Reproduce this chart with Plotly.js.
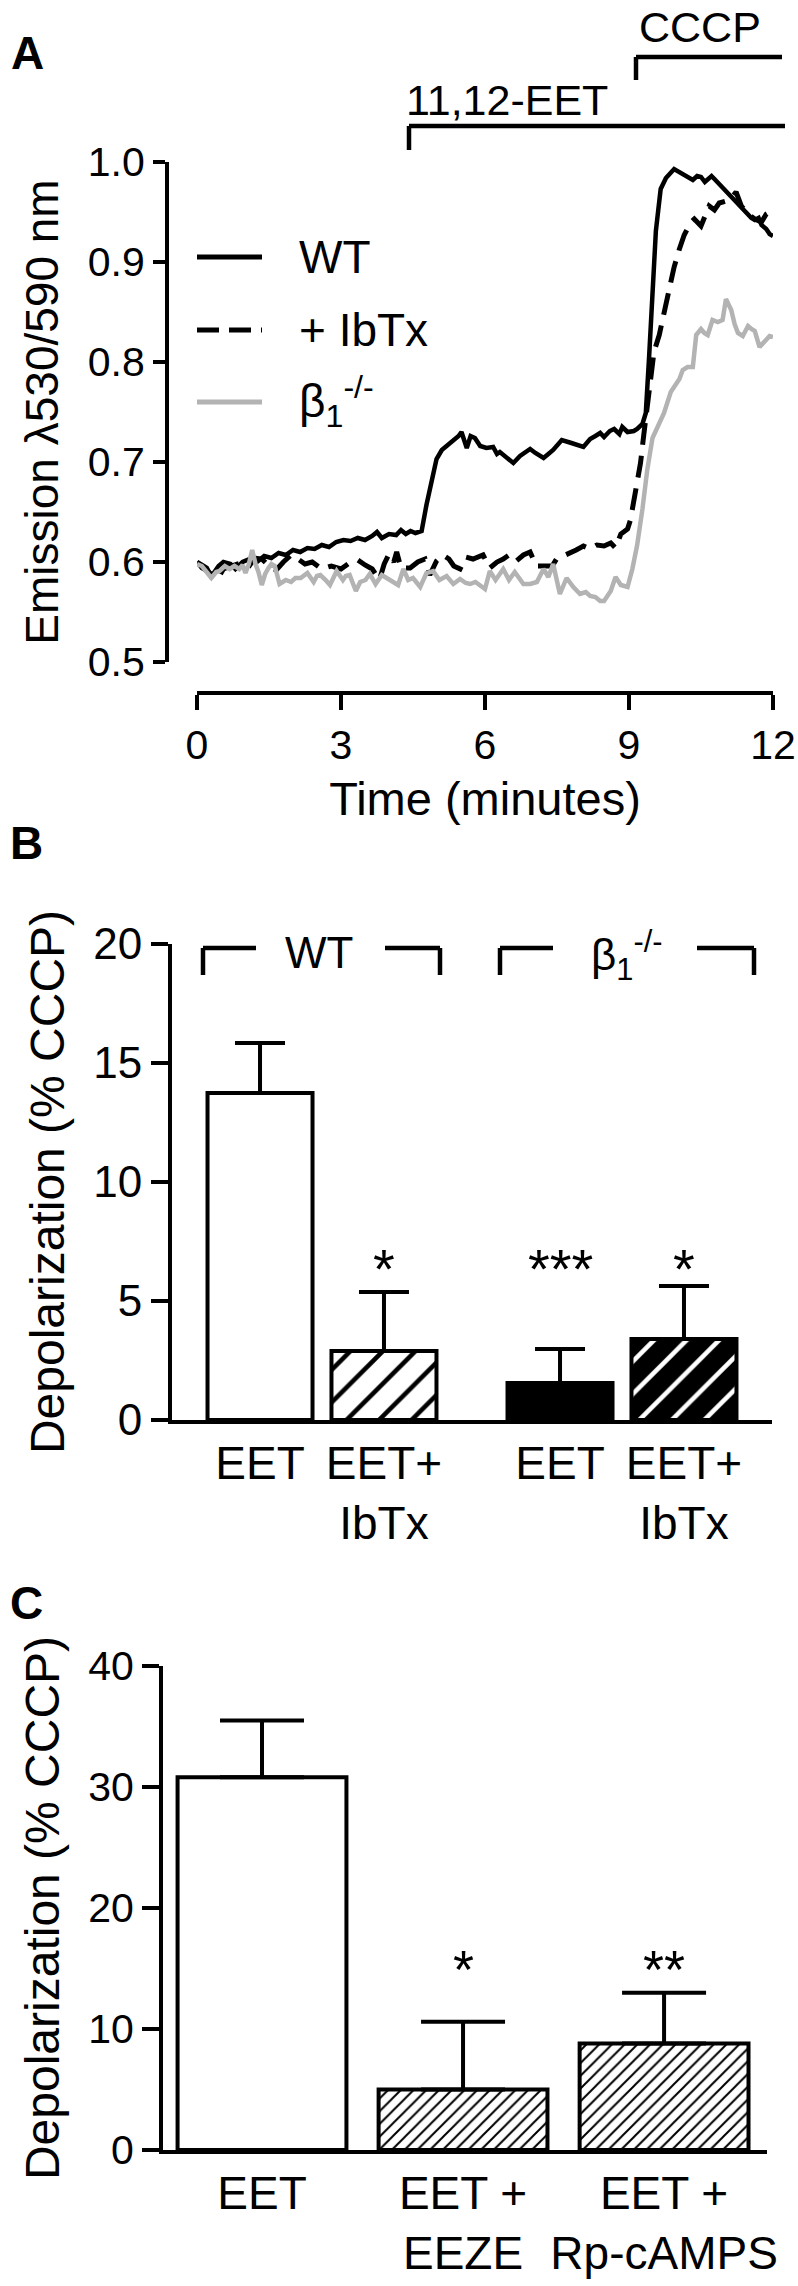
<!DOCTYPE html>
<html>
<head>
<meta charset="utf-8">
<script src="https://cdn.plot.ly/plotly-3.0.1.min.js"></script>
<style>html,body{margin:0;padding:0;background:#fff;}</style>
</head>
<body>
<div id="chart" style="width:798px;height:2286px;"></div>
<script>
// ---------- Panel A data (time in minutes, emission ratio) ----------
const timeWT = [0.00,0.10,0.25,0.32,0.45,0.55,0.70,0.80,0.95,1.10,1.25,1.40,1.55,1.70,1.85,2.00,2.15,2.30,2.45,2.60,2.75,2.90,3.05,3.20,3.35,3.50,3.65,3.75,3.85,4.00,4.15,4.25,4.35,4.45,4.55,4.68,4.78,4.89,4.99,5.10,5.20,5.34,5.45,5.51,5.58,5.62,5.70,5.79,5.90,6.03,6.17,6.25,6.31,6.45,6.59,6.73,6.85,6.94,7.05,7.22,7.32,7.42,7.60,7.70,7.80,8.05,8.19,8.30,8.40,8.48,8.60,8.69,8.80,8.86,8.97,9.10,9.17,9.28,9.35,9.42,9.49,9.56,9.66,9.77,9.94,10.05,10.15,10.25,10.33,10.42,10.50,10.58,10.64,10.72,10.78,10.92,11.00,11.06,11.13,11.20,11.27,11.34,11.41,11.48,11.55,11.62,11.70,11.76,11.86,11.93,12.00];
const emWT = [0.600,0.594,0.590,0.587,0.596,0.600,0.598,0.593,0.600,0.603,0.600,0.606,0.604,0.609,0.607,0.612,0.610,0.614,0.613,0.617,0.615,0.620,0.622,0.621,0.624,0.622,0.626,0.630,0.624,0.628,0.627,0.632,0.628,0.631,0.629,0.631,0.657,0.681,0.703,0.712,0.716,0.721,0.726,0.730,0.720,0.714,0.726,0.724,0.716,0.714,0.715,0.708,0.710,0.705,0.699,0.706,0.710,0.713,0.709,0.704,0.708,0.712,0.722,0.720,0.719,0.715,0.723,0.726,0.729,0.725,0.731,0.733,0.728,0.735,0.730,0.731,0.733,0.738,0.749,0.806,0.877,0.931,0.973,0.984,0.993,0.990,0.987,0.984,0.982,0.986,0.985,0.980,0.982,0.986,0.983,0.976,0.972,0.968,0.964,0.962,0.958,0.955,0.950,0.948,0.944,0.942,0.944,0.937,0.933,0.928,0.926];

const timeIbTx = [0.00,0.10,0.20,0.30,0.44,0.55,0.70,0.85,1.00,1.10,1.20,1.35,1.50,1.65,1.80,1.96,2.10,2.25,2.40,2.60,2.80,3.00,3.20,3.35,3.50,3.65,3.80,3.90,4.00,4.10,4.16,4.25,4.44,4.60,4.75,4.85,4.99,5.12,5.25,5.35,5.48,5.60,5.75,5.96,6.10,6.25,6.38,6.50,6.65,6.80,6.94,7.07,7.25,7.40,7.49,7.65,7.77,7.90,8.05,8.19,8.33,8.48,8.62,8.72,8.83,8.97,9.03,9.14,9.24,9.31,9.38,9.45,9.52,9.63,9.73,9.84,9.94,10.05,10.15,10.29,10.36,10.50,10.60,10.67,10.78,10.88,11.02,11.13,11.23,11.34,11.48,11.62,11.76,11.86,11.93,12.00];
const emIbTx = [0.600,0.597,0.594,0.585,0.584,0.593,0.596,0.598,0.600,0.597,0.604,0.603,0.596,0.592,0.600,0.607,0.603,0.598,0.600,0.593,0.596,0.593,0.600,0.602,0.597,0.593,0.582,0.598,0.608,0.600,0.610,0.594,0.594,0.600,0.603,0.587,0.601,0.607,0.603,0.596,0.593,0.605,0.603,0.607,0.594,0.600,0.603,0.607,0.601,0.607,0.610,0.596,0.596,0.596,0.603,0.606,0.609,0.612,0.616,0.613,0.617,0.616,0.619,0.614,0.628,0.633,0.642,0.671,0.699,0.728,0.756,0.785,0.810,0.827,0.849,0.870,0.895,0.913,0.927,0.940,0.943,0.936,0.950,0.956,0.952,0.959,0.961,0.964,0.970,0.956,0.948,0.943,0.940,0.948,0.950,0.946];

const timeB1 = [0.00,0.10,0.20,0.30,0.40,0.47,0.58,0.68,0.78,0.88,0.95,1.01,1.08,1.15,1.22,1.28,1.35,1.42,1.49,1.55,1.62,1.72,1.85,1.96,2.05,2.16,2.30,2.43,2.50,2.57,2.68,2.77,2.85,2.91,3.04,3.10,3.18,3.25,3.31,3.40,3.51,3.60,3.72,3.85,3.95,4.05,4.19,4.30,4.40,4.50,4.65,4.78,4.92,5.05,5.20,5.34,5.48,5.60,5.69,5.80,5.90,6.00,6.10,6.22,6.38,6.50,6.62,6.80,6.94,7.08,7.22,7.32,7.42,7.56,7.70,7.84,7.98,8.10,8.19,8.30,8.40,8.48,8.62,8.72,8.83,8.97,9.07,9.17,9.28,9.38,9.49,9.59,9.73,9.87,9.98,10.05,10.12,10.22,10.33,10.40,10.50,10.57,10.64,10.74,10.85,10.95,11.02,11.13,11.20,11.27,11.37,11.48,11.55,11.62,11.72,11.83,11.93,12.00];
const emB1 = [0.598,0.596,0.590,0.584,0.590,0.591,0.596,0.593,0.596,0.593,0.597,0.589,0.598,0.612,0.598,0.590,0.577,0.588,0.594,0.598,0.596,0.578,0.582,0.580,0.584,0.584,0.589,0.580,0.586,0.587,0.582,0.577,0.585,0.591,0.582,0.586,0.587,0.579,0.571,0.580,0.582,0.588,0.578,0.587,0.584,0.582,0.577,0.593,0.582,0.584,0.575,0.589,0.591,0.582,0.586,0.578,0.583,0.579,0.578,0.580,0.577,0.573,0.591,0.582,0.593,0.582,0.590,0.578,0.578,0.580,0.593,0.585,0.598,0.568,0.584,0.575,0.568,0.570,0.566,0.565,0.561,0.561,0.571,0.585,0.577,0.575,0.593,0.617,0.653,0.692,0.724,0.735,0.749,0.770,0.778,0.783,0.792,0.795,0.795,0.827,0.833,0.829,0.827,0.842,0.840,0.842,0.863,0.852,0.838,0.829,0.826,0.836,0.833,0.831,0.815,0.820,0.826,0.825];

const seriesNamesA = ["WT", "+ IbTx", "β<sub>1</sub><sup>-/-</sup>"];
const xTicksA = [0, 3, 6, 9, 12];
const yTicksA = [0.5, 0.6, 0.7, 0.8, 0.9, 1.0];
const treatmentLabelsA = ["11,12-EET", "CCCP"];

// ---------- Panel B data ----------
const catB = ["EET", "EET+<br>IbTx", "EET", "EET+<br>IbTx"];
const groupB = ["WT", "β<sub>1</sub><sup>-/-</sup>"];
const depB = [13.74, 2.90, 1.55, 3.40];
const semB = [2.10, 2.48, 1.43, 2.23];
const sigB = ["", "*", "***", "*"];
const yTicksB = [0, 5, 10, 15, 20];

// ---------- Panel C data ----------
const catC = ["EET", "EET +<br>EEZE", "EET +<br>Rp-cAMPS"];
const depC = [30.8, 5.0, 8.8];
const semC = [4.7, 5.6, 4.2];
const sigC = ["", "*", "**"];
const yTicksC = [0, 10, 20, 30, 40];

// ---------- layout helpers (pixel -> paper) ----------
const W = 798, H = 2286;
const X = p => p / W;
const Y = p => 1 - p / H;
const FONT = "Liberation Sans, Arial, Helvetica, sans-serif";
const posB = [0, 1, 2.42, 3.42];
const posC = [0, 1, 2];

// bar styles (B: open, open hatched, filled, filled with white hatch; C: open, fine hatch)
const styleB = [
  {color: "#ffffff", pattern: null},
  {color: "#ffffff", pattern: {shape: "/", fillmode: "replace", bgcolor: "#ffffff", fgcolor: "#000000", size: 23, solidity: 0.2}},
  {color: "#000000", pattern: null},
  {color: "#000000", pattern: {shape: "/", fillmode: "replace", bgcolor: "#000000", fgcolor: "#ffffff", size: 23, solidity: 0.2}}
];
const styleC = [
  {color: "#ffffff", pattern: null},
  {color: "#ffffff", pattern: {shape: "/", fillmode: "replace", bgcolor: "#ffffff", fgcolor: "#000000", size: 9, solidity: 0.22}},
  {color: "#ffffff", pattern: {shape: "/", fillmode: "replace", bgcolor: "#ffffff", fgcolor: "#000000", size: 9, solidity: 0.22}}
];

const traces = [
  {x: timeWT, y: emWT, name: seriesNamesA[0], mode: "lines", xaxis: "x", yaxis: "y",
   line: {color: "#000000", width: 4.5}},
  {x: timeIbTx, y: emIbTx, name: seriesNamesA[1], mode: "lines", xaxis: "x", yaxis: "y",
   line: {color: "#000000", width: 5, dash: "22px,11px"}},
  {x: timeB1, y: emB1, name: seriesNamesA[2], mode: "lines", xaxis: "x", yaxis: "y",
   line: {color: "#b3b3b3", width: 4.5}}
];

function barTrace(xv, yv, ev, st, xa, ya, w, capw) {
  const marker = {color: st.color, line: {color: "#000000", width: 4}};
  if (st.pattern) marker.pattern = st.pattern;
  return {type: "bar", x: [xv], y: [yv], xaxis: xa, yaxis: ya, width: w, marker: marker,
    error_y: {type: "data", array: [ev], arrayminus: [0], symmetric: false, color: "#000000", thickness: 4, width: capw}};
}
depB.forEach((v, i) => traces.push(barTrace(posB[i], v, semB[i], styleB[i], "x2", "y2", 0.847, 25)));
depC.forEach((v, i) => traces.push(barTrace(posC[i], v, semC[i], styleC[i], "x3", "y3", 0.84, 42)));

const axisCommon = {showgrid: false, zeroline: false, showline: true, linecolor: "#000", linewidth: 4,
  tickcolor: "#000", tickwidth: 4, tickfont: {family: FONT, size: 41, color: "#000"}};

const layout = {
  width: W, height: H, margin: {l: 0, r: 0, t: 0, b: 0}, barmode: "overlay",
  paper_bgcolor: "#fff", plot_bgcolor: "rgba(0,0,0,0)", showlegend: false,
  font: {family: FONT, color: "#000", size: 41},
  xaxis: Object.assign({}, axisCommon, {domain: [X(197), X(773)], range: [0, 12], anchor: "free", position: Y(693),
    ticks: "outside", ticklen: 15, tickvals: xTicksA,
    title: {text: "Time (minutes)", font: {family: FONT, size: 47}, standoff: 14}}),
  yaxis: Object.assign({}, axisCommon, {domain: [Y(662), Y(162)], range: [0.5, 1.0], anchor: "free", position: X(167),
    ticks: "outside", ticklen: 12, tickvals: yTicksA, tickformat: ".1f",
    title: {text: "Emission λ530/590 nm", font: {family: FONT, size: 46}, standoff: 14}}),
  xaxis2: Object.assign({}, axisCommon, {domain: [X(172), X(772)], range: [-0.71, 4.13], anchor: "y2",
    ticks: "", tickvals: posB, ticktext: catB, tickfont: {family: FONT, size: 46, color: "#000"}}),
  yaxis2: Object.assign({}, axisCommon, {domain: [Y(1420), Y(944)], range: [0, 20], anchor: "x2",
    ticks: "outside", ticklen: 17, tickvals: yTicksB, tickfont: {family: FONT, size: 44, color: "#000"},
    title: {text: "Depolarization (% CCCP)", font: {family: FONT, size: 48}, standoff: 14}}),
  xaxis3: Object.assign({}, axisCommon, {domain: [X(163), X(767)], range: [-0.4925, 2.512], anchor: "y3",
    ticks: "", tickvals: posC, ticktext: catC, tickfont: {family: FONT, size: 46, color: "#000"}}),
  yaxis3: Object.assign({}, axisCommon, {domain: [Y(2150), Y(1666)], range: [0, 40], anchor: "x3",
    ticks: "outside", ticklen: 17, tickvals: yTicksC,
    title: {text: "Depolarization (% CCCP)", font: {family: FONT, size: 48}, standoff: 14}}),
  shapes: [],
  annotations: []
};

const S = layout.shapes, A = layout.annotations;
function seg(x0, y0, x1, y1, extra) {
  S.push(Object.assign({type: "line", xref: "paper", yref: "paper", x0: X(x0), y0: Y(y0), x1: X(x1), y1: Y(y1),
    line: {color: "#000", width: 4.5}}, extra || {}));
}
function txt(text, x, y, opts) {
  A.push(Object.assign({text: text, xref: "paper", yref: "paper", x: X(x), y: Y(y), showarrow: false,
    xanchor: "center", yanchor: "middle", font: {family: FONT, size: 43, color: "#000"}}, opts || {}));
}

// Panel letters
txt("<b>A</b>", 27, 53, {font: {family: FONT, size: 46, color: "#000"}});
txt("<b>B</b>", 26, 843, {font: {family: FONT, size: 46, color: "#000"}});
txt("<b>C</b>", 26, 1603, {font: {family: FONT, size: 46, color: "#000"}});

// Treatment brackets (panel A)
txt(treatmentLabelsA[1], 700, 27);
seg(636, 80, 636, 57); seg(636, 57, 782, 57);
txt(treatmentLabelsA[0], 507, 100);
seg(409, 150, 409, 126); seg(409, 126, 785, 126);

// Legend (panel A)
seg(197, 257, 262, 257, {line: {color: "#000", width: 5}});
seg(197, 330, 262, 330, {line: {color: "#000", width: 5, dash: "22px,10px"}});
seg(197, 402, 262, 402, {line: {color: "#b3b3b3", width: 5}});
txt(seriesNamesA[0], 297, 257, {xanchor: "left", font: {family: FONT, size: 46, color: "#000"}});
txt(seriesNamesA[1], 297, 330, {xanchor: "left", font: {family: FONT, size: 46, color: "#000"}});
txt(seriesNamesA[2], 297, 402, {xanchor: "left", font: {family: FONT, size: 46, color: "#000"}});

// Group brackets (panel B)
seg(203, 975, 203, 948); seg(203, 948, 256, 948);
seg(385, 948, 440, 948); seg(440, 948, 440, 975);
txt(groupB[0], 319, 952, {font: {family: FONT, size: 44, color: "#000"}});
seg(500, 975, 500, 948); seg(500, 948, 553, 948);
seg(697, 948, 754, 948); seg(754, 948, 754, 975);
txt(groupB[1], 627, 955, {font: {family: FONT, size: 44, color: "#000"}});

// Significance marks
sigB.forEach((s, i) => { if (s) A.push({text: s, xref: "x2", yref: "y2", x: posB[i], y: 7.0, yshift: -15,
  showarrow: false, xanchor: "center", yanchor: "middle", font: {family: FONT, size: 56, color: "#000"}}); });
sigC.forEach((s, i) => { if (s) A.push({text: s, xref: "x3", yref: "y3", x: posC[i], y: 16.1, yshift: -14,
  showarrow: false, xanchor: "center", yanchor: "middle", font: {family: FONT, size: 54, color: "#000"}}); });

Plotly.newPlot("chart", traces, layout, {staticPlot: true, displayModeBar: false});
</script>
</body>
</html>
